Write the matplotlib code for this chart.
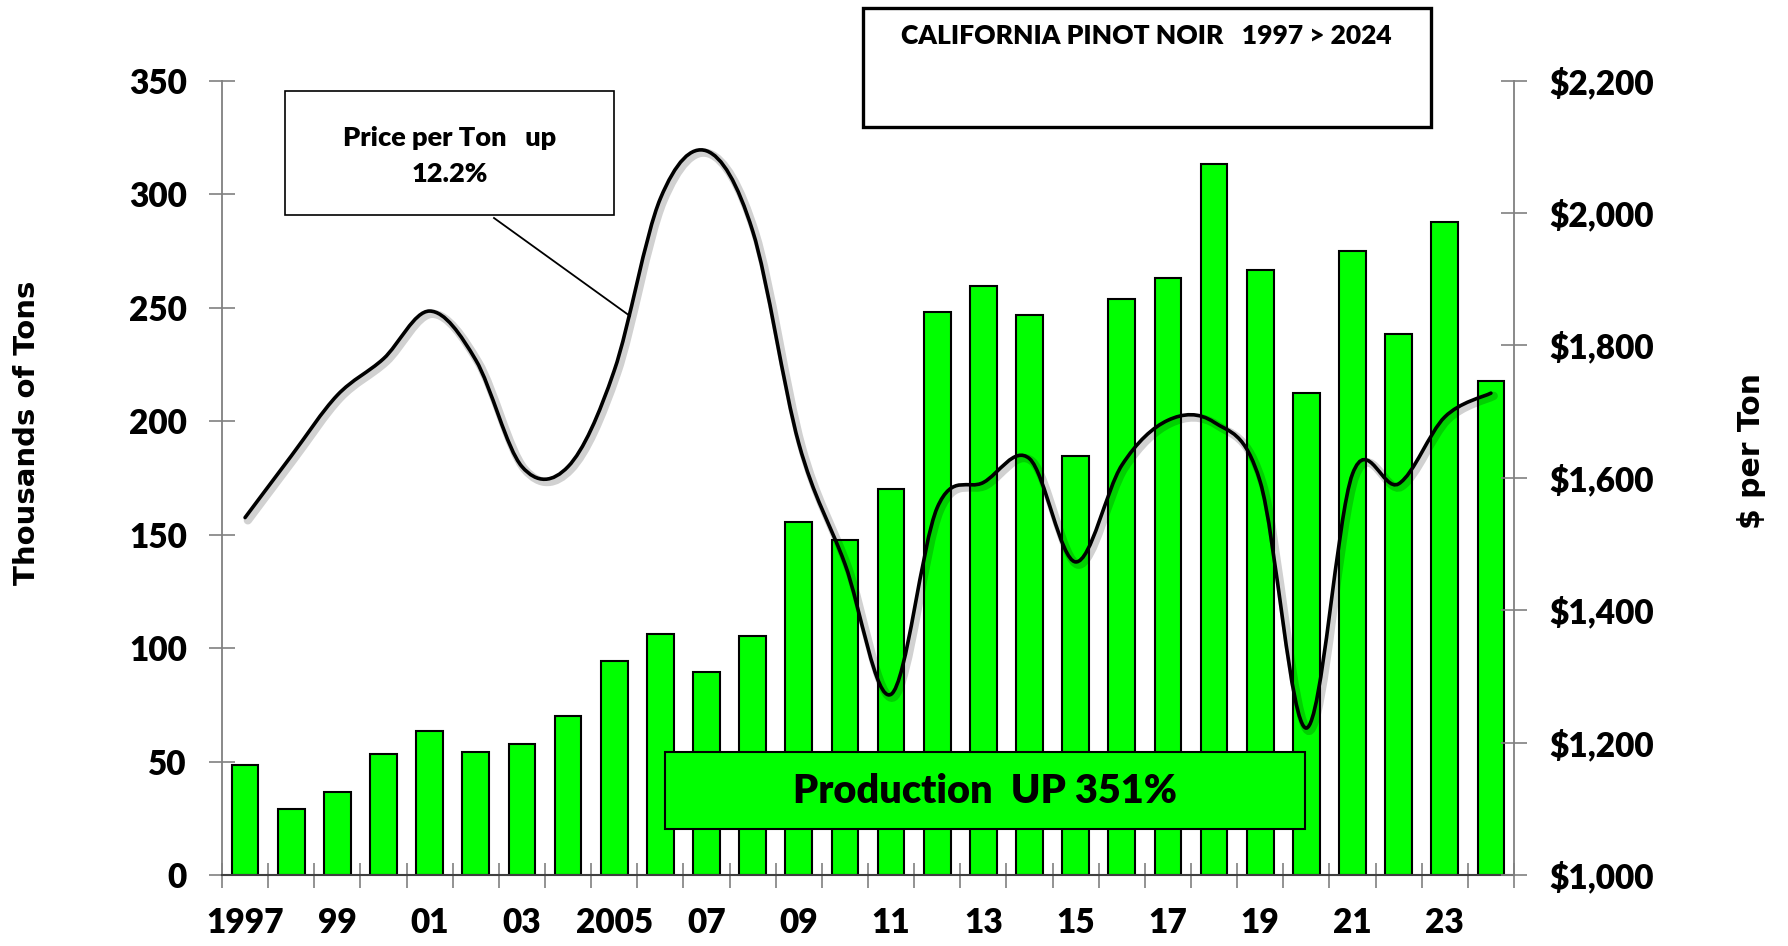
import matplotlib
matplotlib.use('Agg')
import matplotlib.pyplot as plt
from matplotlib.path import Path
from matplotlib.patches import PathPatch, Rectangle
from matplotlib.lines import Line2D
from matplotlib.ticker import FuncFormatter
import matplotlib.patheffects as pe
import numpy as np

# ---------------- data ----------------
years = list(range(1997, 2025))
year_labels = ['1997', '99', '01', '03', '2005', '07', '09', '11',
               '13', '15', '17', '19', '21', '23']
production = [48.3, 29.0, 36.6, 53.2, 63.3, 54.2, 57.9, 69.9, 94.5, 106.0,
              89.4, 105.2, 155.7, 147.5, 170.0, 248.2, 259.5, 246.7, 184.8,
              253.6, 263.1, 313.4, 266.5, 212.4, 275.1, 238.6, 287.9, 217.7]
price = [1540, 1633, 1725, 1780, 1852, 1778, 1617, 1617, 1762, 2022,
         2094, 1973, 1652, 1470, 1273, 1555, 1593, 1629, 1473, 1619,
         1687, 1684, 1594, 1222, 1606, 1591, 1692, 1728]
title_text = "CALIFORNIA PINOT NOIR   1997 > 2024"
price_note = "Price per Ton   up\n12.2%"
prod_note = "Production  UP 351%"

plt.rcParams['font.family'] = ['Lato', 'DejaVu Sans']
plt.rcParams['font.weight'] = 'heavy'

W, H = 1788, 946
fig = plt.figure(figsize=(W / 100, H / 100), dpi=100)


def fx(px):
    return px / W


def fy(py):
    return 1 - py / H


GRAY = '#808080'
GREEN = '#00FF00'
TICK_FS = 24

ax = fig.add_axes([fx(222), fy(875), (1514 - 222) / W, (875 - 80.7) / H])
xpos = np.arange(len(years))
ax.bar(xpos, production, width=0.58, color=GREEN, edgecolor='black',
       linewidth=1.5, zorder=2)
ax.set_xlim(-0.5, len(years) - 0.5)
ax.set_ylim(0, 350)
ax.set_yticks(range(0, 351, 50))
ax.set_xticks(np.arange(-0.5, len(years), 1))
ax.set_xticklabels([])
ax.set_xticks(xpos[::2], minor=True)
ax.set_xticklabels(year_labels, minor=True)
ax.tick_params(axis='x', which='major', direction='inout', length=18,
               width=1.2, color=GRAY)
ax.tick_params(axis='x', which='minor', length=0, pad=23, labelsize=TICK_FS)
ax.tick_params(axis='y', direction='inout', length=18.7, width=1.2,
               color=GRAY, pad=16, labelsize=TICK_FS)
for s in ['top', 'right']:
    ax.spines[s].set_visible(False)
ax.spines['left'].set_color(GRAY)
ax.spines['left'].set_linewidth(1.3)
ax.spines['bottom'].set_color('#404040')
ax.spines['bottom'].set_linewidth(1.5)

ax2 = ax.twinx()
ax2.set_ylim(1000, 2200)
ax2.set_yticks(range(1000, 2201, 200))
ax2.yaxis.set_major_formatter(FuncFormatter(lambda v, p: '${:,.0f}'.format(v)))
ax2.tick_params(axis='y', direction='inout', length=18.7, width=1.2,
                color=GRAY, pad=16, labelsize=TICK_FS)
for s in ['top', 'left', 'bottom']:
    ax2.spines[s].set_visible(False)
ax2.spines['right'].set_color(GRAY)
ax2.spines['right'].set_linewidth(1.3)

# smoothed price line (Bezier through each data point, Excel-style smoothing)
px_ = np.asarray(xpos, dtype=float)
py_ = np.asarray(price, dtype=float)
n = len(px_)
verts = [(px_[0], py_[0])]
codes = [Path.MOVETO]
for i in range(n - 1):
    i0 = max(i - 1, 0)
    i3 = min(i + 2, n - 1)
    c1 = (px_[i] + (px_[i + 1] - px_[i0]) / 6, py_[i] + (py_[i + 1] - py_[i0]) / 6)
    c2 = (px_[i + 1] - (px_[i3] - px_[i]) / 6, py_[i + 1] - (py_[i3] - py_[i]) / 6)
    verts += [c1, c2, (px_[i + 1], py_[i + 1])]
    codes += [Path.CURVE4] * 3
line = PathPatch(Path(verts, codes), fill=False, edgecolor='black', lw=2.6,
                 zorder=3, capstyle='round',
                 path_effects=[pe.SimpleLineShadow(offset=(2, -2), shadow_color='#000000',
                                                   alpha=0.18, linewidth=6),
                               pe.Normal()])
ax2.add_patch(line)

# axis titles
fig.text(fx(27), fy(433), 'Thousands of Tons', rotation=90, ha='center',
         va='center', fontsize=21, family='DejaVu Sans', weight='bold')
fig.text(fx(1752), fy(451), '$ per Ton', rotation=90, ha='center',
         va='center', fontsize=21.5, family='DejaVu Sans', weight='bold')

# price note box
fig.patches.append(Rectangle((fx(285), fy(215)), (614 - 285) / W, (215 - 91) / H,
                             transform=fig.transFigure, facecolor='white',
                             edgecolor='black', lw=1.2, zorder=5))
fig.text(fx(449.5), fy(156), price_note, ha='center', va='center',
         fontsize=19.5, linespacing=1.6, zorder=6)
fig.lines.append(Line2D([fx(494), fx(630)], [fy(218), fy(316)],
                        transform=fig.transFigure, color='black', lw=1.3, zorder=5))

# title box
fig.patches.append(Rectangle((fx(863), fy(127)), (1431 - 863) / W, (127 - 8) / H,
                             transform=fig.transFigure, facecolor='white',
                             edgecolor='black', lw=2.4, zorder=5))
fig.text(fx(1146), fy(36), title_text, ha='center', va='center',
         fontsize=19, zorder=6)

# production box
fig.patches.append(Rectangle((fx(665), fy(829)), (1305 - 665) / W, (829 - 752) / H,
                             transform=fig.transFigure, facecolor=GREEN,
                             edgecolor='black', lw=1.5, zorder=5))
fig.text(fx(985), fy(791), prod_note, ha='center', va='center',
         fontsize=28.5, zorder=6)

fig.savefig('out.png', dpi=100)
